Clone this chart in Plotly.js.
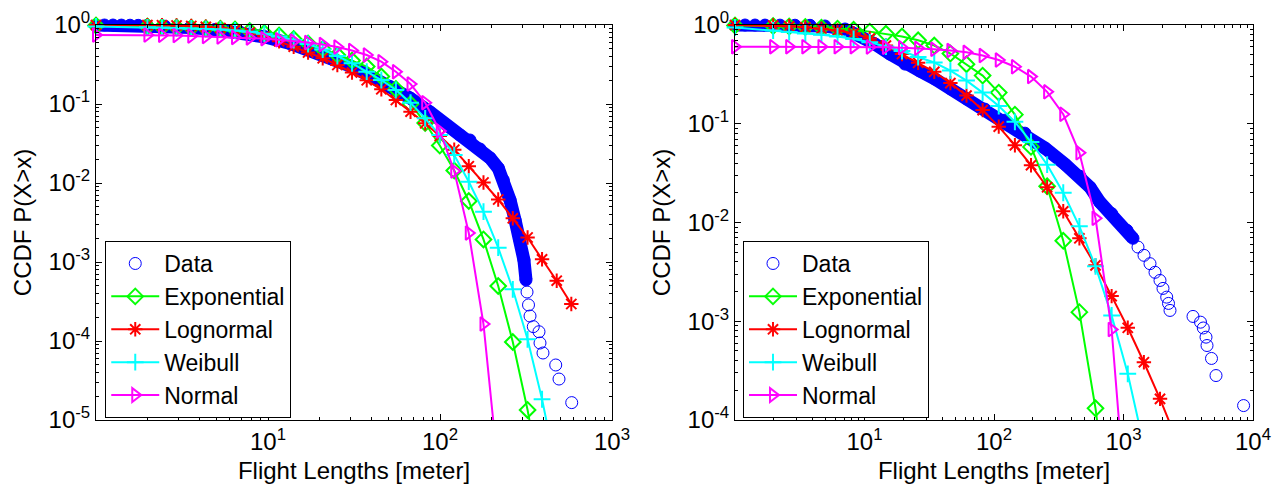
<!DOCTYPE html>
<html><head><meta charset="utf-8">
<script src="https://cdn.plot.ly/plotly-3.0.1.min.js"></script>
<style>html,body{margin:0;padding:0;background:#fff}#chart{width:1285px;height:492px}</style>
</head><body><div id="chart"></div>
<script>
// ---------- Left panel ----------
const leftFitX = [1, 1.99, 2.42, 2.94, 3.58, 4.35, 5.29, 6.43, 7.83, 9.52, 11.6, 14.1, 17.1, 20.8, 25.3, 30.8, 37.5, 45.6, 55.4, 67.4, 82.0, 99.7, 121, 147, 179, 218, 265, 323, 392, 477, 580];
const leftExpY = [0.986, 0.957, 0.943, 0.935, 0.924, 0.911, 0.895, 0.875, 0.839, 0.792, 0.736, 0.665, 0.583, 0.497, 0.417, 0.355, 0.298, 0.223, 0.155, 0.100, 0.0575, 0.0298, 0.0144, 0.00592, 0.00193, 0.000497, 0.0000971, 0.0000134, 0.0000013];
const leftLogY = [0.999, 0.997, 0.994, 0.986, 0.971, 0.949, 0.916, 0.864, 0.804, 0.715, 0.622, 0.531, 0.4485, 0.379, 0.3116, 0.2504, 0.1995, 0.1535, 0.1123, 0.0799, 0.0570, 0.03935, 0.02639, 0.01632, 0.01015, 0.00618, 0.003573, 0.002042, 0.001082, 0.00058, 0.000294];
const leftWeiY = [0.957, 0.935, 0.927, 0.916, 0.906, 0.893, 0.877, 0.852, 0.820, 0.774, 0.713, 0.646, 0.575, 0.4896, 0.405, 0.3274, 0.2563, 0.2012, 0.1504, 0.1039, 0.0659, 0.0405, 0.0226, 0.01039, 0.00433, 0.001517, 0.000451, 0.000105, 0.0000183, 0.00000226];
const leftNorY = [0.747, 0.747, 0.741, 0.734, 0.726, 0.715, 0.705, 0.695, 0.685, 0.671, 0.650, 0.627, 0.6005, 0.5664, 0.5265, 0.4755, 0.4172, 0.343, 0.2563, 0.1791, 0.1039, 0.0455, 0.01418, 0.00233, 0.000164, 0.00000233];
const leftDataX = [1, 1.12, 1.255, 1.405, 1.577, 1.76, 1.979, 2.519, 3.52, 4.919, 6.874, 9.607, 13.43, 17.54, 22.93, 29.98, 39.17, 51.22, 66.94, 87.47, 109.4, 130.7, 149.4, 170.9, 195.3, 218.3, 233.3, 255.3, 273.1, 291.7, 307.6, 316.2, 320.6, 327, 333.7, 348.7, 376.3, 381.4, 397, 470.8, 491.9, 583.2];
const leftDataY = [1, 1, 0.999, 0.997, 0.994, 0.99, 0.9855, 0.9656, 0.93, 0.877, 0.815, 0.705, 0.583, 0.4827, 0.3822, 0.3027, 0.2262, 0.1665, 0.1191, 0.0792, 0.0542, 0.0405, 0.035, 0.02694, 0.02073, 0.01535, 0.0109, 0.00609, 0.0034, 0.0019, 0.00106, 0.000592, 0.000417, 0.000286, 0.000207, 0.000152, 0.000131, 0.0000943, 0.0000705, 0.0000497, 0.000033, 0.0000166];
const leftBandEnd = 32;   // dense, overlapping part of the empirical CCDF
const leftXTicks = [10, 100, 1000];
const leftXTickText = ['10<sup>1</sup>', '10<sup>2</sup>', '10<sup>3</sup>'];
const leftYTicks = [1e-5, 1e-4, 1e-3, 1e-2, 1e-1, 1];
const leftYTickText = ['10<sup>-5</sup>', '10<sup>-4</sup>', '10<sup>-3</sup>', '10<sup>-2</sup>', '10<sup>-1</sup>', '10<sup>0</sup>'];

// ---------- Right panel ----------
const rightFitX = [1, 1.97, 2.62, 3.49, 4.65, 6.19, 8.24, 10.98, 14.63, 19.48, 25.95, 34.56, 46.04, 61.33, 81.69, 108.8, 145.0, 193.1, 257.2, 342.6, 456.4, 607.9, 809.9, 1079, 1437, 1914, 2550];
const rightExpY = [0.9884, 0.9769, 0.9656, 0.9544, 0.9411, 0.9194, 0.8939, 0.857, 0.8143, 0.7646, 0.6997, 0.6195, 0.514, 0.4003, 0.3074, 0.2067, 0.1237, 0.05831, 0.02329, 0.006522, 0.001237, 0.0001314, 0.00000657];
const rightLogY = [0.999, 0.9884, 0.9701, 0.9477, 0.9173, 0.8795, 0.8237, 0.7296, 0.6195, 0.5078, 0.4146, 0.336, 0.2581, 0.1928, 0.1374, 0.09345, 0.06067, 0.03803, 0.02275, 0.01299, 0.006916, 0.00368, 0.001797, 0.000859, 0.0003846, 0.0001637, 0.0000648];
const rightWeiY = [0.9433, 0.8795, 0.8492, 0.8199, 0.7955, 0.7646, 0.7211, 0.6676, 0.6051, 0.5448, 0.4735, 0.4166, 0.3455, 0.2735, 0.2067, 0.1509, 0.1045, 0.06553, 0.03847, 0.02001, 0.00915, 0.003595, 0.001145, 0.0002934, 0.000055];
const rightNorY = [0.6025, 0.6025, 0.6025, 0.6025, 0.6025, 0.6025, 0.6025, 0.5983, 0.5941, 0.5886, 0.5804, 0.5683, 0.5513, 0.5286, 0.4905, 0.4416, 0.3777, 0.3003, 0.2106, 0.1248, 0.0508, 0.01103, 0.000825, 0.00000756];
const rightDataX = [1, 1.195, 1.427, 1.704, 2.226, 2.906, 3.795, 4.954, 7.07, 9.23, 12.05, 15.74, 20.54, 26.83, 35.03, 46.56, 61.87, 85.2, 121.6, 173.5, 247.6, 353.4, 461.6, 551.2, 658.3, 810.7, 1064, 1184, 1294, 1440, 1602, 1751, 1914, 2018, 2156, 2226, 2286, 3441, 3932, 4132, 4336, 4414, 4780, 5180, 8460];
const rightDataY = [1, 1, 0.999, 0.998, 0.997, 0.995, 0.993, 0.977, 0.911, 0.792, 0.642, 0.508, 0.402, 0.3416, 0.2834, 0.2243, 0.1777, 0.1406, 0.1088, 0.0803, 0.0566, 0.0389, 0.0294, 0.02275, 0.01603, 0.0123, 0.00834, 0.00692, 0.00564, 0.00465, 0.00383, 0.00313, 0.00259, 0.00215, 0.001755, 0.001516, 0.001287, 0.001119, 0.000979, 0.000855, 0.00069, 0.000568, 0.00042, 0.000282, 0.00014];
const rightBandEnd = 28;
const rightXTicks = [10, 100, 1000, 10000];
const rightXTickText = ['10<sup>1</sup>', '10<sup>2</sup>', '10<sup>3</sup>', '10<sup>4</sup>'];
const rightYTicks = [1e-4, 1e-3, 1e-2, 1e-1, 1];
const rightYTickText = ['10<sup>-4</sup>', '10<sup>-3</sup>', '10<sup>-2</sup>', '10<sup>-1</sup>', '10<sup>0</sup>'];

const seriesNames = ['Data', 'Exponential', 'Lognormal', 'Weibull', 'Normal'];
const xTitle = 'Flight Lengths [meter]';
const yTitle = 'CCDF P(X>x)';

// ---------- styling ----------
const BLUE = '#0000ff', GREEN = '#00ff00', RED = '#ff0000', CYAN = '#00ffff', MAGENTA = '#ff00ff';
const FONT = 'Liberation Sans, Arial, Helvetica, sans-serif';

function minorVals(decades) {
  const v = [];
  for (let d = decades[0]; d < decades[1]; d++) for (let m = 2; m <= 9; m++) v.push(m * Math.pow(10, d));
  return v;
}
function visible(y, ymin) { return y.map(v => (v >= ymin ? 1 : 0)); }

function panelTraces(p) {
  const tr = [];
  tr.push({x: p.dataX.slice(0, p.bandEnd), y: p.dataY.slice(0, p.bandEnd), xaxis: p.xa, yaxis: p.ya,
    mode: 'lines+markers', line: {color: BLUE, width: 13}, marker: {symbol: 'circle', size: 12, color: BLUE},
    cliponaxis: false, showlegend: false, hoverinfo: 'skip'});
  tr.push({x: p.dataX, y: p.dataY, xaxis: p.xa, yaxis: p.ya, name: seriesNames[0], legend: p.legend,
    mode: 'markers', marker: {symbol: 'circle-open', size: 12, color: BLUE, line: {width: 1, color: BLUE}},
    cliponaxis: false});
  const fits = [
    {y: p.expY, c: GREEN, s: 'diamond-open', z: 12, n: seriesNames[1]},
    {y: p.logY, c: RED, s: 'asterisk-open', z: 12, n: seriesNames[2]},
    {y: p.weiY, c: CYAN, s: 'cross-thin-open', z: 12, n: seriesNames[3]},
    {y: p.norY, c: MAGENTA, s: 'triangle-right-open', z: 12, n: seriesNames[4]}
  ];
  fits.forEach(f => {
    tr.push({x: p.fitX.slice(0, f.y.length), y: f.y, xaxis: p.xa, yaxis: p.ya, name: f.n, legend: p.legend,
      mode: 'lines+markers', line: {color: f.c, width: 2},
      marker: {symbol: f.s, size: f.z, color: f.c, opacity: visible(f.y, p.ymin), line: {width: 2, color: f.c}},
      cliponaxis: false});
  });
  return tr;
}

const traces = [].concat(
  panelTraces({dataX: leftDataX, dataY: leftDataY, bandEnd: leftBandEnd, fitX: leftFitX, expY: leftExpY, logY: leftLogY,
    weiY: leftWeiY, norY: leftNorY, xa: 'x', ya: 'y', legend: 'legend', ymin: 1e-5}),
  panelTraces({dataX: rightDataX, dataY: rightDataY, bandEnd: rightBandEnd, fitX: rightFitX, expY: rightExpY, logY: rightLogY,
    weiY: rightWeiY, norY: rightNorY, xa: 'x2', ya: 'y2', legend: 'legend2', ymin: 1e-4})
);

const axCommon = {type: 'log', showline: true, linecolor: '#000', linewidth: 1, mirror: 'ticks', ticks: 'inside',
  ticklen: 6, tickwidth: 1, tickcolor: '#000', showgrid: false, zeroline: false, tickmode: 'array',
  tickfont: {size: 24, color: '#000', family: FONT}, layer: 'above traces'};

function xAxis(domain, range, tv, tt, anchor) {
  return Object.assign({}, axCommon, {domain: domain, range: range, tickvals: tv, ticktext: tt, anchor: anchor,
    minor: {ticks: 'inside', ticklen: 3, tickcolor: '#000', tickmode: 'array', tickvals: minorVals(range)},
    title: {text: xTitle, font: {size: 24, color: '#000', family: FONT}, standoff: 8}});
}
function yAxis(range, tv, tt, anchor) {
  return Object.assign({}, axCommon, {domain: [0, 1], range: range, tickvals: tv, ticktext: tt, anchor: anchor,
    minor: {ticks: 'inside', ticklen: 3, tickcolor: '#000', tickmode: 'array', tickvals: minorVals(range)},
    title: {text: yTitle, font: {size: 24, color: '#000', family: FONT}, standoff: 10}});
}

const legendCommon = {bgcolor: '#fff', bordercolor: '#000', borderwidth: 1, font: {size: 23, color: '#000', family: FONT},
  xanchor: 'left', yanchor: 'bottom', y: 0.005, itemwidth: 48, tracegroupgap: 0};

const layout = {
  width: 1285, height: 492, margin: {l: 96, r: 32, t: 25, b: 72},
  paper_bgcolor: '#fff', plot_bgcolor: '#fff', font: {family: FONT, color: '#000'},
  xaxis: xAxis([0, 516 / 1157], [0, 3], leftXTicks, leftXTickText, 'y'),
  yaxis: yAxis([-5, 0], leftYTicks, leftYTickText, 'x'),
  xaxis2: xAxis([639 / 1157, 1], [0, 4], rightXTicks, rightXTickText, 'y2'),
  yaxis2: yAxis([-4, 0], rightYTicks, rightYTickText, 'x2'),
  legend: Object.assign({}, legendCommon, {x: 0.008}),
  legend2: Object.assign({}, legendCommon, {x: 0.5592}),
  showlegend: true
};

Plotly.newPlot('chart', traces, layout, {staticPlot: true, displayModeBar: false});
</script>
</body></html>
